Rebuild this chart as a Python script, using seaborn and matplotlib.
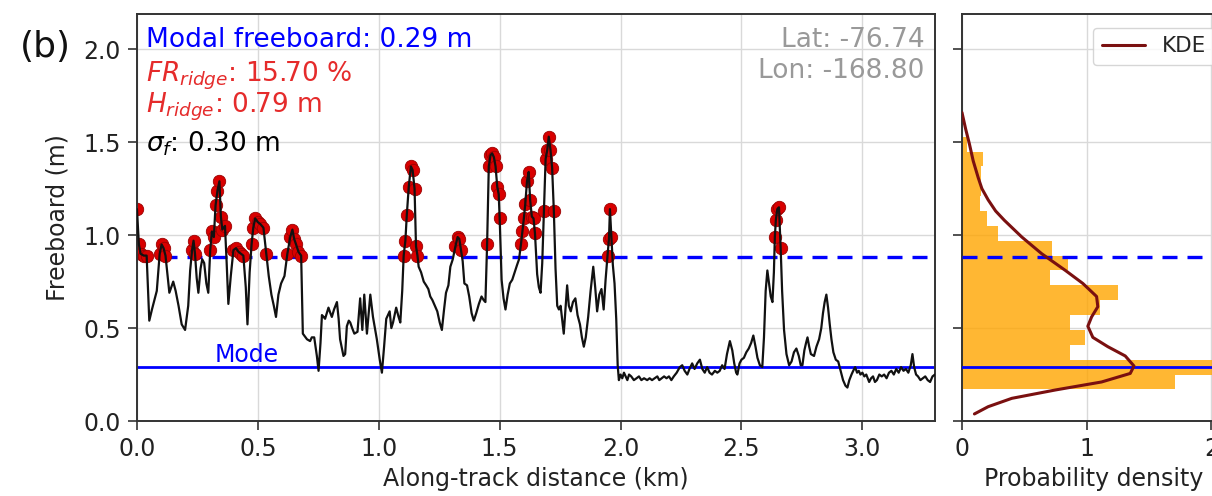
import numpy as np
import pandas as pd
import matplotlib
matplotlib.use('Agg')
import matplotlib.pyplot as plt
import seaborn as sns

#1 Along-track freeboard profile (km, m)
dist_km = [
    0.000, 0.008, 0.015, 0.028, 0.040, 0.051, 0.062, 0.072, 0.082, 0.094,
    0.102, 0.110, 0.118, 0.127, 0.134, 0.142, 0.150, 0.160, 0.172, 0.185,
    0.199, 0.212, 0.220, 0.228, 0.234, 0.240, 0.247, 0.254, 0.263, 0.270,
    0.278, 0.287, 0.295, 0.303, 0.310, 0.318, 0.325, 0.333, 0.341, 0.347,
    0.353, 0.364, 0.371, 0.378, 0.388, 0.399, 0.410, 0.420, 0.430, 0.440,
    0.450, 0.457, 0.466, 0.474, 0.481, 0.489, 0.500, 0.510, 0.523, 0.535,
    0.545, 0.556, 0.566, 0.575, 0.585, 0.596, 0.610, 0.622, 0.634, 0.643,
    0.650, 0.658, 0.668, 0.679, 0.686, 0.703, 0.716, 0.723, 0.733, 0.744,
    0.751, 0.759, 0.765, 0.772, 0.778, 0.785, 0.792, 0.800, 0.806, 0.815,
    0.827, 0.834, 0.840, 0.854, 0.861, 0.868, 0.876, 0.882, 0.890, 0.899,
    0.912, 0.923, 0.932, 0.940, 0.951, 0.965, 0.976, 0.992, 1.004, 1.013,
    1.022, 1.031, 1.045, 1.052, 1.059, 1.072, 1.082, 1.089, 1.097, 1.103,
    1.110, 1.116, 1.124, 1.133, 1.140, 1.148, 1.154, 1.160, 1.165, 1.175,
    1.186, 1.196, 1.205, 1.213, 1.222, 1.232, 1.242, 1.252, 1.261, 1.270,
    1.278, 1.288, 1.296, 1.306, 1.317, 1.326, 1.333, 1.340, 1.347, 1.354,
    1.365, 1.374, 1.384, 1.393, 1.403, 1.414, 1.425, 1.434, 1.441, 1.448,
    1.455, 1.462, 1.469, 1.476, 1.483, 1.490, 1.496, 1.500, 1.508, 1.516,
    1.524, 1.533, 1.542, 1.552, 1.562, 1.572, 1.580, 1.588, 1.594, 1.600,
    1.606, 1.613, 1.620, 1.626, 1.633, 1.640, 1.646, 1.655, 1.662, 1.669,
    1.676, 1.683, 1.690, 1.697, 1.703, 1.710, 1.717, 1.724, 1.731, 1.738,
    1.745, 1.752, 1.758, 1.765, 1.772, 1.779, 1.786, 1.794, 1.803, 1.813,
    1.822, 1.832, 1.840, 1.848, 1.856, 1.866, 1.876, 1.887, 1.895, 1.903,
    1.912, 1.921, 1.930, 1.938, 1.946, 1.952, 1.956, 1.962, 1.968, 1.975,
    1.982, 1.988, 1.993, 2.000, 2.007, 2.014, 2.021, 2.028, 2.035, 2.044,
    2.055, 2.066, 2.076, 2.086, 2.097, 2.110, 2.120, 2.130, 2.141, 2.152,
    2.160, 2.170, 2.180, 2.190, 2.200, 2.210, 2.220, 2.232, 2.245, 2.255,
    2.265, 2.276, 2.285, 2.296, 2.306, 2.317, 2.328, 2.338, 2.348, 2.358,
    2.368, 2.378, 2.390, 2.400, 2.410, 2.420, 2.430, 2.440, 2.452, 2.462,
    2.470, 2.478, 2.483, 2.492, 2.500, 2.510, 2.520, 2.530, 2.540, 2.549,
    2.558, 2.566, 2.576, 2.586, 2.593, 2.600, 2.607, 2.614, 2.621, 2.628,
    2.634, 2.638, 2.642, 2.648, 2.655, 2.662, 2.668, 2.676, 2.686, 2.697,
    2.707, 2.717, 2.727, 2.737, 2.745, 2.752, 2.760, 2.767, 2.773, 2.780,
    2.787, 2.800, 2.810, 2.821, 2.830, 2.837, 2.844, 2.851, 2.858, 2.865,
    2.872, 2.880, 2.890, 2.900, 2.910, 2.920, 2.930, 2.938, 2.946, 2.955,
    2.962, 2.970, 2.978, 2.985, 2.992, 3.000, 3.008, 3.016, 3.028, 3.036,
    3.044, 3.052, 3.060, 3.070, 3.080, 3.090, 3.100, 3.110, 3.120, 3.130,
    3.140, 3.150, 3.160, 3.170, 3.180, 3.190, 3.200, 3.207, 3.214, 3.222,
    3.230, 3.240, 3.250, 3.260, 3.270, 3.280, 3.290, 3.300,
]
freeboard_m = [
    1.14, 0.95, 0.90, 0.89, 0.89, 0.54, 0.60, 0.65, 0.70, 0.90,
    0.95, 0.93, 0.89, 0.78, 0.69, 0.72, 0.75, 0.70, 0.62, 0.52,
    0.49, 0.62, 0.81, 0.92, 0.97, 0.90, 0.77, 0.69, 0.82, 0.87,
    0.85, 0.74, 0.69, 0.92, 1.02, 0.99, 1.16, 1.24, 1.29, 1.10,
    1.03, 1.05, 0.85, 0.63, 0.78, 0.92, 0.93, 0.91, 0.90, 0.89,
    0.72, 0.52, 0.80, 0.95, 1.04, 1.09, 1.07, 1.06, 1.04, 0.90,
    0.78, 0.68, 0.62, 0.56, 0.68, 0.74, 0.78, 0.90, 0.99, 1.03,
    0.98, 0.95, 0.91, 0.89, 0.47, 0.44, 0.43, 0.45, 0.45, 0.35,
    0.27, 0.42, 0.57, 0.56, 0.55, 0.58, 0.61, 0.58, 0.56, 0.60,
    0.64, 0.55, 0.44, 0.35, 0.36, 0.51, 0.54, 0.53, 0.50, 0.47,
    0.48, 0.66, 0.49, 0.68, 0.47, 0.68, 0.56, 0.44, 0.33, 0.26,
    0.40, 0.55, 0.59, 0.50, 0.53, 0.61, 0.56, 0.53, 0.70, 0.89,
    0.97, 1.11, 1.26, 1.37, 1.35, 1.25, 0.94, 0.89, 0.83, 0.80,
    0.75, 0.73, 0.71, 0.67, 0.65, 0.62, 0.59, 0.53, 0.49, 0.60,
    0.69, 0.73, 0.83, 0.87, 0.94, 0.99, 0.98, 0.92, 0.86, 0.74,
    0.73, 0.67, 0.58, 0.54, 0.58, 0.63, 0.67, 0.65, 0.64, 0.95,
    1.37, 1.43, 1.44, 1.42, 1.37, 1.26, 1.22, 1.09, 0.76, 0.66,
    0.60, 0.68, 0.74, 0.76, 0.80, 0.84, 0.87, 0.95, 1.02, 1.09,
    1.17, 1.29, 1.34, 1.19, 1.10, 1.09, 1.01, 0.79, 0.72, 0.69,
    0.85, 1.13, 1.41, 1.46, 1.53, 1.46, 1.36, 1.13, 0.82, 0.62,
    0.60, 0.62, 0.55, 0.47, 0.60, 0.73, 0.62, 0.59, 0.64, 0.66,
    0.57, 0.52, 0.45, 0.40, 0.45, 0.56, 0.70, 0.83, 0.72, 0.59,
    0.68, 0.71, 0.60, 0.76, 0.89, 0.98, 1.14, 0.99, 0.84, 0.74,
    0.55, 0.30, 0.22, 0.25, 0.23, 0.26, 0.24, 0.22, 0.25, 0.24,
    0.22, 0.23, 0.24, 0.22, 0.23, 0.22, 0.23, 0.22, 0.23, 0.24,
    0.22, 0.23, 0.24, 0.23, 0.24, 0.22, 0.24, 0.26, 0.29, 0.30,
    0.27, 0.25, 0.28, 0.31, 0.28, 0.31, 0.33, 0.28, 0.26, 0.29,
    0.26, 0.25, 0.27, 0.26, 0.27, 0.30, 0.28, 0.36, 0.43, 0.38,
    0.31, 0.26, 0.25, 0.31, 0.33, 0.34, 0.37, 0.39, 0.42, 0.46,
    0.40, 0.34, 0.30, 0.29, 0.45, 0.70, 0.81, 0.74, 0.67, 0.64,
    0.80, 0.99, 1.08, 1.14, 1.15, 0.93, 0.70, 0.49, 0.36, 0.30,
    0.32, 0.37, 0.39, 0.35, 0.30, 0.30, 0.38, 0.42, 0.45, 0.40,
    0.36, 0.35, 0.40, 0.44, 0.50, 0.58, 0.64, 0.68, 0.61, 0.52,
    0.44, 0.37, 0.33, 0.32, 0.27, 0.22, 0.19, 0.18, 0.22, 0.25,
    0.27, 0.29, 0.26, 0.27, 0.25, 0.26, 0.24, 0.25, 0.21, 0.23,
    0.24, 0.21, 0.22, 0.25, 0.24, 0.25, 0.23, 0.26, 0.27, 0.25,
    0.28, 0.26, 0.29, 0.27, 0.28, 0.26, 0.30, 0.36, 0.29, 0.25,
    0.24, 0.22, 0.23, 0.24, 0.22, 0.21, 0.24, 0.25,
]

#2 Summary values shown on the chart
modal_fb = 0.29
ridge_level = 0.885

#3 Histogram of freeboard (bin edges, density)
bin_edges = [0.17, 0.25, 0.33, 0.41, 0.49, 0.57, 0.65, 0.73, 0.81,
             0.89, 0.97, 1.05, 1.13, 1.21, 1.29, 1.37, 1.45, 1.53]
bin_density = [1.71, 2.28, 0.87, 0.99, 0.87, 1.11, 1.25, 0.71, 0.85,
               0.72, 0.29, 0.20, 0.145, 0.15, 0.15, 0.17, 0.04]

#4 Kernel density curve
kde_fb = [1.66, 1.57, 1.49, 1.40, 1.31, 1.25, 1.19, 1.13, 1.08, 0.99,
          0.90, 0.81, 0.74, 0.67, 0.615, 0.56, 0.51, 0.45, 0.40, 0.35,
          0.296, 0.256, 0.21, 0.167, 0.122, 0.077, 0.038]
kde_density = [0.0, 0.03, 0.06, 0.09, 0.13, 0.16, 0.21, 0.27, 0.34, 0.48,
               0.64, 0.83, 0.97, 1.08, 1.09, 1.04, 1.01, 1.05, 1.17, 1.31,
               1.38, 1.35, 1.12, 0.75, 0.40, 0.21, 0.10]

df = pd.DataFrame({'dist': dist_km, 'fb': freeboard_m})
ridges = df[df['fb'] >= ridge_level]
bin_centers = [(a + b) / 2 for a, b in zip(bin_edges[:-1], bin_edges[1:])]

#5 Style
sns.set_style('ticks')
plt.rcParams['font.family'] = ['DejaVu Sans']
plt.rcParams['mathtext.fontset'] = 'dejavusans'
spine_col = '#333333'
tick_col = '#222222'

fig = plt.figure(figsize=(12.12, 4.96), dpi=100)
ax1 = fig.add_axes([0.1130, 0.1512, 0.6584, 0.8206])
ax2 = fig.add_axes([0.7937, 0.1512, 0.2170, 0.8206], sharey=ax1)

#6 Left panel: profile
ax1.axhline(modal_fb, color='blue', lw=2.0, zorder=1)
ax1.axhline(ridge_level, color='blue', lw=2.4, ls=(0, (4.5, 3)), zorder=1)
sns.scatterplot(data=ridges, x='dist', y='fb', ax=ax1, color='#d80000',
                edgecolor='#9a0000', linewidth=0.6, s=80, zorder=2, legend=False)
sns.lineplot(data=df, x='dist', y='fb', ax=ax1, color='#111111', lw=1.6,
             estimator=None, sort=False, zorder=3)

ax1.text(0.32, 0.315, 'Mode', color='blue', fontsize=17)
ax1.text(0.011, 0.919, 'Modal freeboard: 0.29 m', color='blue', fontsize=19,
         transform=ax1.transAxes, va='baseline')
ax1.text(0.011, 0.833, r'$FR_{ridge}$: 15.70 %', color='#e52b2b', fontsize=19,
         transform=ax1.transAxes, va='baseline')
ax1.text(0.011, 0.757, r'$H_{ridge}$: 0.79 m', color='#e52b2b', fontsize=19,
         transform=ax1.transAxes, va='baseline')
ax1.text(0.011, 0.661, r'$\sigma_f$: 0.30 m', color='black', fontsize=19,
         transform=ax1.transAxes, va='baseline')
ax1.text(0.987, 0.919, 'Lat: -76.74', color='#999999', fontsize=19,
         transform=ax1.transAxes, va='baseline', ha='right')
ax1.text(0.987, 0.843, 'Lon: -168.80', color='#999999', fontsize=19,
         transform=ax1.transAxes, va='baseline', ha='right')

ax1.set_xlim(0, 3.3)
ax1.set_ylim(0, 2.19)
ax1.set_xticks([0, 0.5, 1.0, 1.5, 2.0, 2.5, 3.0])
ax1.set_yticks([0, 0.5, 1.0, 1.5, 2.0])
ax1.set_xlabel('Along-track distance (km)', fontsize=17, color=tick_col)
ax1.set_ylabel('Freeboard (m)', fontsize=17, color=tick_col, labelpad=10)

#7 Right panel: distribution
sns.histplot(y=bin_centers, weights=bin_density, bins=bin_edges, ax=ax2,
             color='orange', alpha=0.8, linewidth=0, edgecolor=None)
ax2.axhline(modal_fb, color='blue', lw=2.0, zorder=4)
ax2.axhline(ridge_level, color='blue', lw=2.4, ls=(0, (4.5, 3)), zorder=4)
sns.lineplot(x=kde_density, y=kde_fb, ax=ax2, color='#7a1010', lw=2.2,
             sort=False, estimator=None, label='KDE', zorder=5)
ax2.legend(loc='upper left', bbox_to_anchor=(0.498, 0.966), fontsize=15.5,
           handlelength=2, borderaxespad=0)
ax2.set_xlim(0, 2.11)
ax2.set_xticks([0, 1, 2])
ax2.set_xlabel('Probability density', fontsize=17, color=tick_col)
ax2.set_ylabel('')
ax2.tick_params(axis='y', labelleft=False)

for ax in (ax1, ax2):
    ax.grid(True, color='#d9d9d9', lw=1.0)
    ax.set_axisbelow(True)
    ax.tick_params(labelsize=17, length=6.5, width=1.2, pad=5,
                   colors=spine_col, labelcolor=tick_col)
    for sp in ax.spines.values():
        sp.set_visible(True)
        sp.set_color(spine_col)
        sp.set_linewidth(1.4)

fig.text(0.0165, 0.885, '(b)', fontsize=26, color='#111111')

fig.savefig('out.png', dpi=100)
